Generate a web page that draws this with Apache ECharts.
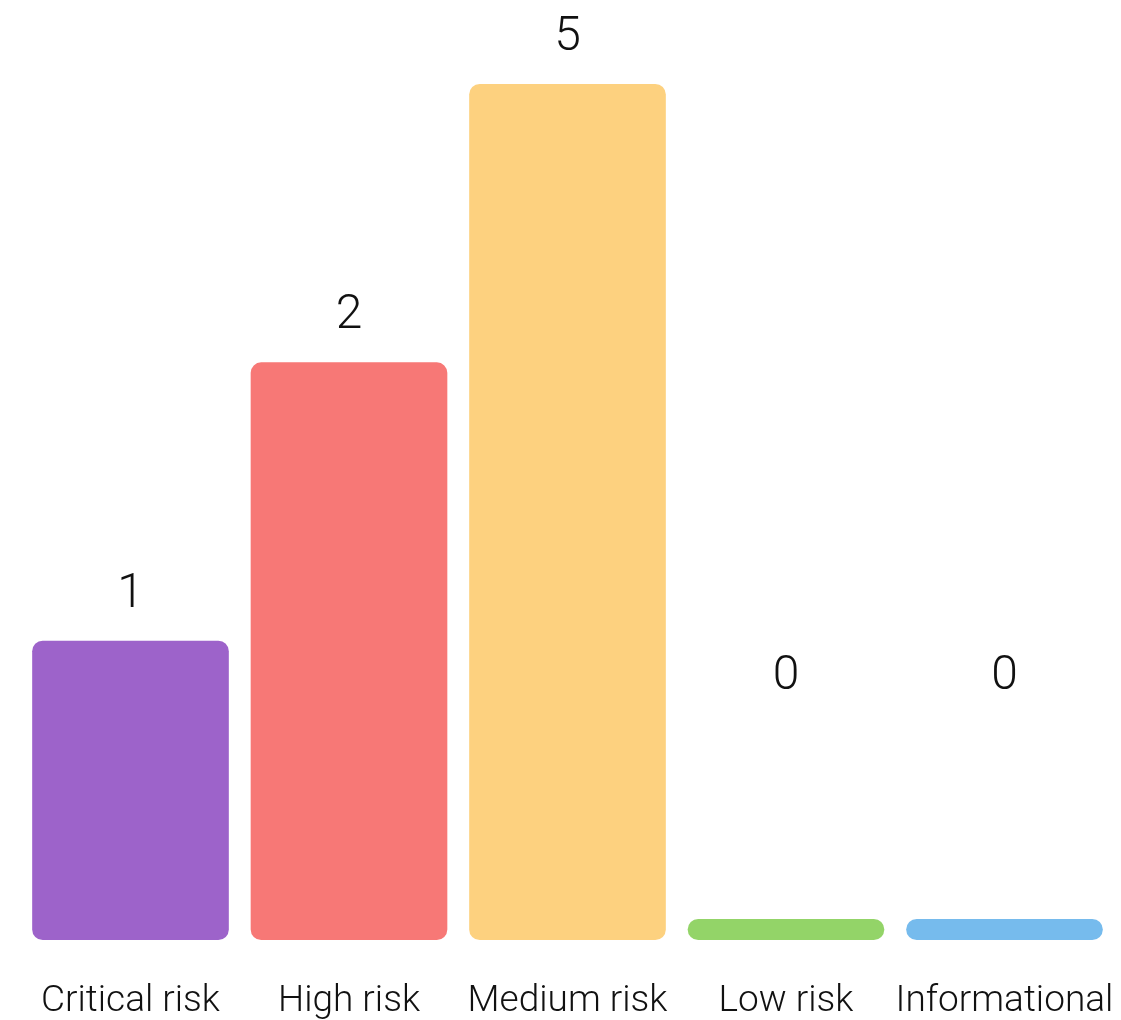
<!DOCTYPE html>
<html>
<head>
<meta charset="utf-8">
<title>Findings by risk level</title>
<script src="https://cdn.jsdelivr.net/npm/echarts@6/dist/echarts.min.js"></script>
<style>
  html, body { margin: 0; padding: 0; background: #ffffff; }
  #chart { width: 1121px; height: 1020px; }
</style>
</head>
<body>
<div id="chart"></div>
<script>
// Risk categories and finding counts
const categories = ['Critical risk', 'High risk', 'Medium risk', 'Low risk', 'Informational'];
const counts = ['1', '2', '5', '0', '0'];
// Count levels on the (hidden) ordinal value axis, evenly spaced
const countLevels = ['0', '1', '2', '5'];
const barColors = ['#9D63CA', '#F77876', '#FDD17F', '#93D468', '#76BBED'];

// Bar styling
const BAR_RATIO = 0.9;        // bar width as share of the category band
const BASE_PAD = 21;          // every bar reaches this far below the zero level
const CORNER = 10.5;
const LABEL_GAP = 22;         // space between bar top and its count label
const ZERO_LABEL_LIFT = 196;  // empty categories keep their label floating higher
const FONT = 'Roboto';

const chart = echarts.init(document.getElementById('chart'), null, { renderer: 'canvas' });

function renderBar(params, api) {
  const catIdx = api.value(0);
  const level = api.value(1);
  const top = api.coord([catIdx, level]);
  const zero = api.coord([catIdx, 0]);
  const bandW = api.size([1, 0])[0];
  const w = bandW * BAR_RATIO;
  const x = top[0] - w / 2;
  const y = top[1];
  const h = zero[1] - top[1] + BASE_PAD;
  const text = counts[params.dataIndex];
  const labelY = y - LABEL_GAP - (text === '0' ? ZERO_LABEL_LIFT : 0);
  return {
    type: 'group',
    children: [
      {
        type: 'rect',
        shape: { x: x, y: y, width: w, height: h, r: CORNER },
        style: { fill: barColors[params.dataIndex] }
      },
      {
        type: 'text',
        x: top[0],
        y: labelY,
        style: {
          text: text,
          fill: '#111111',
          font: '300 48px ' + FONT,
          align: 'center',
          verticalAlign: 'bottom'
        }
      }
    ]
  };
}

chart.setOption({
  animation: false,
  backgroundColor: '#ffffff',
  grid: { left: 21.25, right: 7.25, top: 84, bottom: 99, containLabel: false },
  xAxis: {
    type: 'category',
    data: categories,
    axisLine: { show: false },
    axisTick: { show: false },
    axisLabel: {
      margin: 64,
      color: '#111111',
      fontFamily: FONT,
      fontWeight: 300,
      fontSize: 37,
      interval: 0
    }
  },
  yAxis: {
    type: 'category',
    data: countLevels,
    boundaryGap: false,
    show: false
  },
  series: [{
    type: 'custom',
    renderItem: renderBar,
    clip: false,
    encode: { x: 0, y: 1 },
    data: counts.map((c, i) => [i, c])
  }]
});
</script>
</body>
</html>
